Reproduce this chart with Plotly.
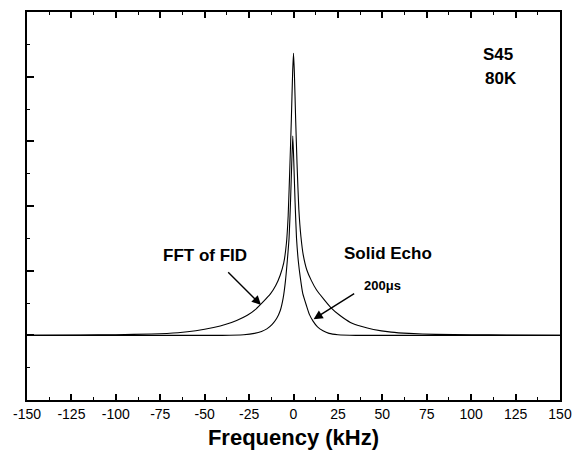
import plotly.graph_objects as go

# Frequency (kHz) and intensity (arbitrary units, baseline = 0)
fid_freq = [-150, -120, -100, -80, -65, -55, -45, -38, -32, -26, -21, -17, -13, -10, -7.5, -5.5,
            -4, -3, -2, -1.2, -0.5, 0, 0.5, 1.2, 2, 3, 4.2, 5.5, 7.5, 10, 13, 17, 21, 26, 32,
            38, 45, 55, 65, 80, 100, 120, 150]
fid_int = [0, 0.005, 0.01, 0.02, 0.04, 0.07, 0.12, 0.17, 0.23, 0.31, 0.41, 0.52, 0.64, 0.77, 0.93, 1.12,
           1.42, 1.85, 2.65, 3.35, 4.05, 4.36, 4.05, 3.35, 2.65, 1.95, 1.52, 1.24, 1.01, 0.85, 0.7, 0.56, 0.43, 0.31, 0.2,
           0.14, 0.09, 0.05, 0.03, 0.015, 0.01, 0.005, 0]

echo_freq = [-150, -40, -28, -22, -18, -15, -12, -9.5, -7.5, -5.8, -4.5, -3.5, -2.5, -1.7, -1, -0.4,
             0.2, 0.9, 1.7, 2.7, 3.8, 5.2, 7.4, 9, 11, 13.5, 16.6, 20, 25, 35, 150]
echo_int = [0, 0, 0.01, 0.03, 0.06, 0.1, 0.17, 0.26, 0.38, 0.58, 0.85, 1.15, 1.5, 2.05, 2.65, 3.08,
            2.65, 2.05, 1.5, 1.15, 0.9, 0.65, 0.45, 0.32, 0.22, 0.13, 0.07, 0.03, 0.01, 0, 0]

x_tick_vals = [-150, -125, -100, -75, -50, -25, 0, 25, 50, 75, 100, 125, 150]
x_tick_text = ["-150", "-125", "-100", "-75", "-50", "-25", "0", "25", "50", "75", "100", "125", "150"]

fig = go.Figure()
fig.add_trace(go.Scatter(x=fid_freq, y=fid_int, mode="lines", name="FFT of FID",
                         line=dict(color="black", width=1.1, shape="spline", smoothing=0.5)))
fig.add_trace(go.Scatter(x=echo_freq, y=echo_int, mode="lines", name="Solid Echo 200μs",
                         line=dict(color="black", width=1.1, shape="spline", smoothing=0.5)))

bold = dict(family="Liberation Sans, Arial, sans-serif", size=17, color="black")
fig.add_annotation(x=-49.7, y=1.24, text="<b>FFT of FID</b>", showarrow=False, font=bold)
fig.add_annotation(x=53.2, y=1.27, text="<b>Solid Echo</b>", showarrow=False, font=bold)
fig.add_annotation(x=50, y=0.77, text="<b>200μs</b>", showarrow=False,
                   font=dict(family="Liberation Sans, Arial, sans-serif", size=13, color="black"))
fig.add_annotation(x=115.2, y=4.35, text="<b>S45</b>", showarrow=False, font=bold)
fig.add_annotation(x=117, y=3.97, text="<b>80K</b>", showarrow=False, font=bold)

# arrows
fig.add_annotation(x=-18.3, y=0.47, ax=-37.6, ay=1.0, axref="x", ayref="y", xref="x", yref="y",
                   text="", showarrow=True, arrowhead=2, arrowsize=1.3, arrowwidth=1.4, arrowcolor="black")
fig.add_annotation(x=11.3, y=0.25, ax=35, ay=0.66, axref="x", ayref="y", xref="x", yref="y",
                   text="", showarrow=True, arrowhead=2, arrowsize=1.3, arrowwidth=1.4, arrowcolor="black")

fig.update_layout(
    width=572, height=450,
    margin=dict(l=27, r=12, t=12, b=50, autoexpand=False),
    paper_bgcolor="white", plot_bgcolor="white",
    showlegend=False,
    font=dict(family="Liberation Sans, Arial, sans-serif", color="black"),
)
fig.update_xaxes(
    range=[-150, 150], tickvals=x_tick_vals, ticktext=x_tick_text, automargin=False,
    ticks="inside", ticklen=6, tickwidth=1.5, tickcolor="black",
    minor=dict(ticks="inside", ticklen=3, tickwidth=1.2, dtick=12.5, tick0=0, tickcolor="black"),
    showline=True, linecolor="black", linewidth=1.8, mirror="ticks",
    showgrid=False, zeroline=False,
    tickfont=dict(size=14, color="black"),
    title=dict(text="<b>Frequency (kHz)</b>", font=dict(size=22, color="black"), standoff=9),
)
fig.update_yaxes(
    range=[-1, 5], dtick=1, tick0=0, showticklabels=False, automargin=False,
    ticks="inside", ticklen=7, tickwidth=1.5, tickcolor="black",
    minor=dict(ticks="inside", ticklen=3, tickwidth=1.2, dtick=0.5, tick0=0, tickcolor="black"),
    showline=True, linecolor="black", linewidth=1.8, mirror=True,
    showgrid=False, zeroline=False,
)

fig.write_html("out.html", config={"displayModeBar": False},
               post_script="document.body.style.margin='0';document.body.style.overflow='hidden';")
